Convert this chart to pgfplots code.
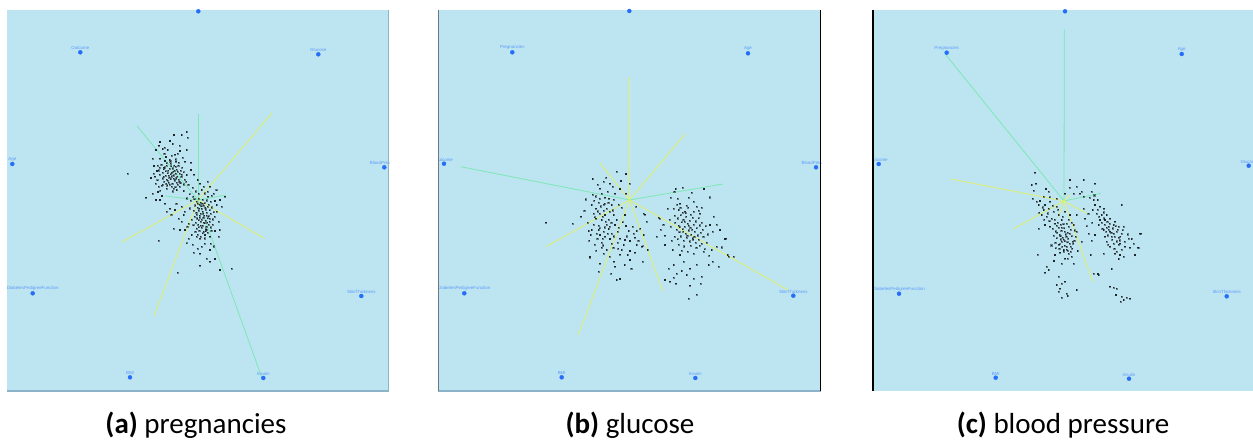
\documentclass[border=0pt]{standalone}
\usepackage{pgfplots}
\usepackage{pgfplotstable}
\pgfplotsset{compat=1.18}
\usepackage{fontspec}
\setmainfont{Carlito}
\newfontfamily\labfont{Liberation Sans}
\definecolor{bgblue}{RGB}{188,229,241}
\definecolor{anchorblue}{RGB}{38,110,250}
\definecolor{labelblue}{RGB}{95,152,250}
\definecolor{raygreen}{RGB}{125,232,178}
\definecolor{rayyellow}{RGB}{226,240,110}
\definecolor{ptcol}{RGB}{25,28,32}
\definecolor{edgegray}{RGB}{140,180,200}
\definecolor{edgedark}{RGB}{105,120,130}

% ---------- scatter points (pixel positions in each panel) ----------
\pgfplotstableread{
x y
174 135
181.7 135
186.7 132
187.7 137.7
172.3 144
179.3 145.7
159 145.7
164.3 147.3
167.7 150
162.7 149
177.7 153.3
186.7 150
171.7 155.7
175 154.3
152.7 158.3
160 158.3
165 161
169.3 160
182.3 157.7
185 161.7
176 161.7
191 162.7
159.3 167.7
163.3 167.7
153.3 173.3
155 176.7
127.3 173.3
191 170
194 174.3
186.7 175
155.7 183.3
158.3 186.7
162.7 184.3
166.7 188.3
176.7 190
183.3 191
152.3 193.3
197.3 180
200 183.3
203.3 186.7
210 186.7
207.3 181.7
201.7 190
213.3 193.3
160 142
156 150
170 141
166 157
180 151
154 166
157 171
151 178
158 192
162 196
156 200
161.2 164.8
163.9 169.1
166.4 165.7
168.1 170.6
170.3 163.9
172.6 168.2
174.1 165.3
176.7 169.4
178.2 165.9
180.4 170.8
182.1 167.3
162.8 172.4
165.3 175.6
167.6 173.1
169.2 177.4
171.5 172.3
173.4 175.2
175.8 173.6
177.1 176.9
179.6 173.3
181.2 176.5
183.7 172.1
162.4 178.2
164.1 181.6
166.7 179.4
168.3 182.7
170.6 179.1
172.2 183.4
174.5 180.2
176.3 182.5
178.8 179.6
180.2 183.1
184.4 179.3
167.1 185.2
171.4 186.3
175.2 187.1
179.5 186.4
169.7 168.3
173.1 171.4
177.4 171.8
171.3 176.2
165.6 171.1
159.4 174.3
157.2 180.1
161.3 185.4
183.4 184.2
186.1 181.3
170.2 161.2
166.3 163.1
175.4 159.2
160.1 190.3
157.3 165.4
172.8 191.2
179.2 181.5
173.5 178.5
168.5 175.5
175.5 166.5
164.7 167.2
170.9 174.1
174.6 170.3
167.3 180.3
177.9 184.4
163.6 176.3
169.9 184.8
176.1 178.2
181.9 174.4
166.1 183.9
173.8 188.9
158.7 170.2
171.1 166.1
178.6 162.7
164.2 153.6
188.2 184.6
192.5 187.3
195.8 191.2
189.6 194.1
193.1 196.4
198.4 193.6
204.6 193.2
207.8 191.4
211.6 195.3
216.2 190.1
186.3 198.2
190.4 200.3
194.2 199.1
196.5 201.8
198.3 198.7
200.7 202.4
202.6 199.6
204.9 203.1
206.8 200.2
208.5 204.3
210.3 201.5
195.1 205.2
197.4 207.9
199.6 204.8
201.8 208.3
203.7 205.6
205.3 209.2
207.6 206.4
209.8 210.1
211.9 207.2
193.6 210.8
196.2 212.5
198.7 210.4
200.4 213.6
202.9 211.7
204.1 215.3
206.5 212.8
208.9 216.1
210.7 213.4
194.8 216.7
197.1 218.2
199.3 215.9
201.4 219.4
203.2 217.5
205.8 220.3
207.4 218.1
209.6 221.6
212.3 219.2
195.9 222.4
198.1 224.6
200.3 221.9
202.5 225.3
204.7 223.1
206.2 226.8
208.3 224.5
210.8 227.2
196.8 228.3
199.2 230.7
201.6 227.9
203.9 231.4
205.7 229.2
207.9 232.6
193.2 225.1
191.7 219.6
212.8 224.4
213.6 212.1
197.6 203.3
201.2 206.1
205.1 207.4
199.8 217.3
203.4 222.6
198.5 227.1
202.4 233.1
195.2 231.9
211.2 230.3
200.9 236.4
204.3 238.2
197.3 234.6
199.1 208.6
203.1 213.8
207.1 222.4
200.8 225.6
205.6 231.1
196.4 214.6
209.4 218.7
202.2 203.8
198.8 220.1
206.9 215.4
216.7 205
221.7 206.7
216.7 211.7
215 201
220 200
225 196.7
208 196.7
214.3 216.8
218.9 221.3
146 197.7
160 200
165 203.3
170 208.3
166.7 211.7
175 210
181.7 206.7
183.3 215
178.3 218.3
173.3 228.3
180 230
185 230
181.7 221.7
188.3 223.3
191.7 235
188.3 238.3
196.7 236.7
200 238.3
205 235
210 236.7
206.7 230
215 231
219.3 230
218.3 236.7
210.7 243.3
201.7 246.7
197.3 248.3
210 250
158.3 240.7
200 253.3
206.7 258.3
215 259
210 261.7
200 265.7
220 270
231.7 268.3
177.3 272.3
187.2 226.4
184.6 211.3
189.4 208.2
176.2 203.5
171.2 214.6
186.5 243.1
192.8 244.5
193.6 252.7
204.5 243.9
213.4 246.2
}\ptsA

\pgfplotstableread{
x y
616.7 171.7
626 174
592.7 179
597.3 184.3
603.3 181.7
610 183.3
600 188.3
612.7 186.7
621 181
620 189
592.3 194.3
615 193.3
626 193.3
599.3 198.3
605 197.7
609 198.3
598.3 202.3
603.3 204.3
611.7 205
618.3 204.3
591.7 205
596 208.3
606.7 208.3
621.7 207.7
593.3 213.3
599.3 213.3
605 215
613.3 215
625 215
581 216.7
596 218.3
601.7 220
616.7 220
593.3 224.3
598.3 225.7
606.7 224.3
615 225
626 226
546 222.7
572.3 223.3
591.7 230
598.3 230
603.3 231.7
608.3 229
611.7 233.3
617.3 231.7
628.3 231
633.3 233.3
636.7 231
588.3 231
590.7 235
600 235
605 236.7
610 239
620 238.3
625 240
630 241
635 237.7
601.7 242.3
611.7 243.3
623.3 245
636.7 245
601.7 247.7
606.7 250
621.7 250
630 251
603.3 253.3
620 254.3
627.3 255
635 252.3
590 256.7
630 260
614 261.7
600 263.3
624.3 265
615 266.7
598.3 271.7
616.7 280
620 279
589.3 257.3
643.3 213.3
646.7 221.7
647.3 250
595.4 196.2
601.8 193.6
607.3 191.4
594.1 200.7
600.6 206.2
608.2 202.9
613.6 199.4
597.8 211.2
603.9 210.4
609.4 211.8
602.7 216.9
608.8 219.4
611.2 222.6
604.3 227.2
596.4 233.4
602.6 238.6
607.8 233.9
613.9 236.2
618.6 227.8
622.4 222.1
587.6 222.8
584.2 210.6
589.1 240.3
594.7 244.8
613.2 247.6
617.8 242.9
632.4 226.7
640.1 228.9
638.2 240.4
642.6 246.1
609.7 256.8
596.1 250.4
631.2 268.4
611.1 273.6
585.9 199.2
606.1 177.3
629.4 183.6
636.1 206.3
599.6 228.1
605.8 221.6
597.2 238.9
603.1 245.2
609.3 226.4
594.6 217.1
618.1 248.3
626.4 236.2
604.9 203.6
612.4 210.2
675.7 189
682.7 187.7
704 189
670.7 197.7
677.7 198.3
688.3 197.7
680 203.3
693.3 201.7
686.7 205.7
701.7 207.7
667.7 208.3
673.3 208.3
678.3 210
685 211.7
693.3 211.7
700 213.3
645 214.3
658.3 217.7
710 225
716.7 224.3
712.7 231.7
720 230
725 239
656.7 236.7
665 235.7
665 245
672.7 250
680 255
693.3 253.3
703.3 251.7
711.7 250
716.7 246.7
727.3 255
733.3 256.7
712.7 261.7
708.3 265
718.3 266.7
696.7 264.3
690 268.3
673.3 265
668.3 268.3
681.7 271
686.7 275
693.3 278.3
701.7 276.7
673.3 277.7
676 283.3
690 285.7
700.7 283.3
670 281.7
696.7 294.3
688.3 298.3
665 280
676.7 273.3
683.3 261.7
642.7 261.7
641.7 246.7
643.3 235
726 238.3
728.3 256.7
659.3 218.3
674.2 191.5
691.6 192.4
709.8 197.2
713.4 216.9
663.2 224.8
660.4 229.3
706.9 242.8
721.8 247.2
674.3 215.6
677.6 218.2
680.4 215.1
683.2 219.4
686.1 216.3
689.3 220.7
692.5 217.4
695.8 221.2
698.6 218.1
701.9 222.6
675.1 222.9
678.7 225.4
681.3 222.1
684.6 226.3
687.4 223.5
690.2 227.6
693.7 224.3
696.4 228.1
699.3 225.2
702.6 229.4
676.4 229.8
679.2 232.1
682.5 229.1
685.3 233.4
688.6 230.2
691.1 234.6
694.8 231.3
697.5 235.2
700.4 232.4
703.2 236.5
674.6 236.6
677.8 239.1
680.9 236.2
683.7 240.3
686.4 237.4
689.8 241.2
692.3 238.2
695.6 242.3
698.9 239.4
701.5 243.6
678.3 244.8
684.1 246.2
690.6 245.5
696.2 247.8
681.6 250.4
687.7 251.9
670.9 226.7
669.4 219.6
671.3 240.8
705.6 226.1
707.8 234.2
685.8 213.1
680.2 207.4
688.1 207.9
696.3 206.6
684.4 221.7
692.1 229.5
687.2 235.8
679.6 227.1
694.2 236.8
682.9 212.4
690.9 214.6
677.1 204.8
698.4 210.9
688.9 225.3
683.1 231.9
693.1 239.9
699.8 245.9
704.8 249.1
709.1 255.6
}\ptsB

\pgfplotstableread{
x y
1035 172.3
1031.7 185
1036 183.3
1046 189
1048.3 191.7
1070 180
1069.3 187.7
1076.7 186.7
1083.3 180
1081.7 191.7
1083.3 196.7
1073.3 193.3
1065 193.3
1032.7 198.3
1036.7 201.7
1038.3 205
1040 201
1045 205
1050 201.7
1056.7 198.3
1043.3 210
1048.3 208.3
1053.3 211.7
1056.7 206.7
1041.7 215
1046.7 216.7
1051.7 218.3
1058.3 215
1065 211.7
1070 215
1076.7 215
1061.7 220
1066.7 223.3
1045 225
1050 226.7
1055 223.3
1038.3 228.3
1073.3 225
1076.7 231.7
1063.3 250
1068.3 253.3
1060 252.3
1055 255
1071.7 256.7
1065 258.3
1061.7 263.3
1073.3 263.3
1037.3 254.3
1054 261
1046.7 266.7
1048.3 270
1045 272.3
1058.3 276.7
1061.7 283.3
1065 281.7
1056.7 285
1060 288.3
1066.7 293.3
1058.3 291.7
1076.7 290
1067.3 296
1061.7 297.7
1080 193.3
1083.3 208.3
1085 218.3
1088.3 233.3
1081.7 241.7
1077.3 251
1052.4 228.6
1055.8 231.2
1058.3 227.4
1061.2 230.9
1064.1 228.1
1067.4 232.6
1070.6 229.7
1053.7 235.3
1056.9 238.1
1059.6 234.4
1062.8 237.6
1065.3 234.2
1068.1 238.9
1071.4 236.1
1074.2 240.3
1055.2 242.4
1058.4 244.7
1061.7 241.6
1064.6 245.3
1067.2 242.1
1070.3 246.4
1073.1 243.7
1059.2 248.6
1063.4 251.2
1066.8 249.3
1070.9 251.8
1057.6 222.4
1060.8 224.6
1054.3 219.6
1049.2 221.1
1047.3 213.2
1044.1 219.7
1062.4 216.4
1068.4 219.8
1071.8 222.6
1074.5 230.2
1064.9 241.1
1060.3 239.2
1057.1 232.8
1066.2 236.8
1069.3 243.5
1062.1 246.8
1055.6 248.1
1068.6 226.5
1063.2 224.1
1042.8 207.2
1039.1 212.6
1052.6 205.4
1058.1 209.8
1033.6 190.4
1043.5 196.3
1049.5 197.1
1075.3 236.9
1072.1 248.8
1051.2 245.2
1067.9 258.8
1060.2 236.1
1063.7 239.8
1066.9 246.9
1069.8 233.9
1059.9 244.1
1072.6 241.5
1056.4 225.8
1064.4 231.6
1067.7 250.8
1061.4 227.6
1095 183.3
1091.7 191.7
1093.3 200
1097.3 200
1095 205
1100 206.7
1092.7 210
1104 208.3
1096.7 213.3
1101.7 215
1106.7 215
1121.7 205
1100 220
1105 220
1110 218.3
1115 221.7
1098.3 225
1108.3 226.7
1113.3 225
1118.3 226.7
1123.3 226.7
1103.3 230
1110 231.7
1116.7 231.7
1121.7 233.3
1095 235
1105 236.7
1111.7 236.7
1118.3 237.7
1128.3 238.3
1131.7 239
1140 233.3
1106.7 241.7
1113.3 243.3
1120 243.3
1125 246.7
1110 246.7
1130 247.7
1138.3 247.7
1103.3 253.3
1116.7 251.7
1120 255
1115 253.3
1123.3 256.7
1118.3 259
1135 255
1111.7 269
1090.7 255
1093.3 273.3
1098.3 275
1110 286.7
1113.3 287.7
1116.7 288.3
1116 295
1121.7 296.7
1126.7 297.7
1130 298.3
1120.7 301.7
1123.3 300
1141 233.3
1137.3 247.3
1098 274
1101.3 222.4
1104.6 224.8
1107.2 221.6
1109.8 223.9
1112.4 228.2
1115.6 226.1
1102.2 228.4
1106.1 231.8
1108.7 229.3
1113.9 233.6
1117.4 229.4
1120.1 236.3
1107.8 235.2
1112.1 239.4
1116.3 241.2
1119.7 240.2
1122.6 230.1
1124.8 241.3
1099.1 216.7
1103.4 212.2
1097.6 209.3
1094.2 195.2
1089.4 197.6
1088.2 213.8
1108.1 244.6
1114.2 248.7
1121.9 249.3
1127.3 234.2
1133.6 243.8
1092.1 222.7
1086.7 226.1
1091.8 240.4
1106.4 227.9
1111.2 232.9
1114.7 236.4
1104.1 218.2
1118.9 244.9
}\ptsC

% anchor positions
\pgfplotstableread{
x y
198.3 11.3
318.3 54.3
384.3 167.3
361.3 296
263.3 378
130 377.3
32.7 293.3
12.3 164
80.3 52.3
}\ancA
\pgfplotstableread{
x y
629.3 11
748 53.3
816 167.3
793.3 295.7
695.3 378
561.7 377.3
464.3 293.3
444 163.7
512.3 52.3
}\ancB
\pgfplotstableread{
x y
1065 11.3
1181.7 54
1248.7 165.7
1226.7 296.3
1129 378.7
995.7 377.7
899 293.7
878.7 164
946.7 52.7
}\ancC

\pgfplotsset{
  panel/.style={
    anchor=south west, scale only axis, height=381bp,
    ymin=10, ymax=391, y dir=reverse,
    axis line style={draw=none}, xtick=\empty, ytick=\empty,
    axis background/.style={fill=bgblue}, clip=true,
  },
  pts/.style={only marks, mark=square*, mark size=0.55bp, color=ptcol, mark options={draw opacity=0.5, fill opacity=0.9}},
  anc/.style={only marks, mark=*, mark size=2bp, color=anchorblue},
  rg/.style={raygreen, line width=0.8bp, no marks},
  ry/.style={rayyellow, line width=0.8bp, no marks},
}
\tikzset{
  lab/.style={anchor=south, inner sep=0pt, yshift=2.4bp, text=labelblue, font=\labfont\fontsize{4.4bp}{5bp}\selectfont},
}

\begin{document}
\begin{tikzpicture}
\useasboundingbox (0,0) rectangle (1253bp,441bp);

% ---------------- panel (a) ----------------
\begin{axis}[panel, at={(7bp,50bp)}, width=382bp, xmin=7, xmax=389]
\addplot[rg] coordinates {(198,200) (198,114)};
\addplot[ry] coordinates {(198,200) (272,113)};
\addplot[rg] coordinates {(198,200) (226,195)};
\addplot[ry] coordinates {(198,200) (264,238)};
\addplot[rg] coordinates {(198,200) (262,378)};
\addplot[ry] coordinates {(198,200) (154,316)};
\addplot[ry] coordinates {(198,200) (122,242)};
\addplot[rg] coordinates {(198,200) (165,196)};
\addplot[rg] coordinates {(198,200) (137,126)};
\addplot[pts] table {\ptsA};
\addplot[anc] table {\ancA};
\node[lab] at (axis cs:198.3,11.3) {Pregnancies};
\node[lab] at (axis cs:318.3,54.3) {Glucose};
\node[lab] at (axis cs:384.3,167.3) {BloodPressure};
\node[lab] at (axis cs:361.3,296) {SkinThickness};
\node[lab] at (axis cs:263.3,378) {Insulin};
\node[lab] at (axis cs:130,377.3) {BMI};
\node[lab] at (axis cs:32.7,293.3) {DiabetesPedigreeFunction};
\node[lab] at (axis cs:12.3,164) {Age};
\node[lab] at (axis cs:80.3,52.3) {Outcome};
\end{axis}

% ---------------- panel (b) ----------------
\begin{axis}[panel, at={(438bp,50bp)}, width=383bp, xmin=438, xmax=821]
\addplot[ry] coordinates {(629.5,200) (629.5,77)};
\addplot[ry] coordinates {(629.5,200) (685,134)};
\addplot[rg] coordinates {(629.5,200) (723,184)};
\addplot[ry] coordinates {(629.5,200) (788,290)};
\addplot[ry] coordinates {(629.5,200) (662.7,290.7)};
\addplot[ry] coordinates {(629.5,200) (578.3,335)};
\addplot[ry] coordinates {(629.5,200) (546,246.7)};
\addplot[rg] coordinates {(629.5,200) (460.7,166.7)};
\addplot[ry] coordinates {(629.5,200) (600,163.3)};
\addplot[pts] table {\ptsB};
\addplot[anc] table {\ancB};
\node[lab] at (axis cs:629.3,11) {Glucose};
\node[lab] at (axis cs:748,53.3) {Age};
\node[lab] at (axis cs:816,167.3) {BloodPressure};
\node[lab] at (axis cs:793.3,295.7) {SkinThickness};
\node[lab] at (axis cs:695.3,378) {Insulin};
\node[lab] at (axis cs:561.7,377.3) {BMI};
\node[lab] at (axis cs:464.3,293.3) {DiabetesPedigreeFunction};
\node[lab] at (axis cs:444,163.7) {Outcome};
\node[lab] at (axis cs:512.3,52.3) {Pregnancies};
\end{axis}

% ---------------- panel (c) ----------------
\begin{axis}[panel, at={(872bp,50bp)}, width=384bp, xmin=872, xmax=1256]
\addplot[rg] coordinates {(1064,201) (1064.3,29.3)};
\addplot[rg] coordinates {(1064,201) (1100.7,193.3)};
\addplot[rg] coordinates {(1064,201) (946,55)};
\addplot[ry] coordinates {(1064,201) (951,179)};
\addplot[ry] coordinates {(1064,201) (1013.3,229)};
\addplot[ry] coordinates {(1064,201) (1058.3,216.7)};
\addplot[ry] coordinates {(1064,201) (1092.7,281.7)};
\addplot[ry] coordinates {(1064,201) (1086.7,213.3)};
\addplot[ry] coordinates {(1064,201) (1070,195)};
\addplot[pts] table {\ptsC};
\addplot[anc] table {\ancC};
\node[lab] at (axis cs:1065,11.3) {BloodPressure};
\node[lab] at (axis cs:1181.7,54) {Age};
\node[lab] at (axis cs:1248.7,165.7) {Glucose};
\node[lab] at (axis cs:1226.7,296.3) {SkinThickness};
\node[lab] at (axis cs:1129,378.7) {Insulin};
\node[lab] at (axis cs:995.7,377.7) {BMI};
\node[lab] at (axis cs:899,293.7) {DiabetesPedigreeFunction};
\node[lab] at (axis cs:878.7,164) {Outcome};
\node[lab] at (axis cs:946.7,52.7) {Pregnancies};
\end{axis}

% panel edges
\draw[edgegray, line width=1.1bp] (7bp,50bp) -- (389bp,50bp);
\draw[edgegray, line width=1.1bp] (388.5bp,50bp) -- (388.5bp,431bp);
\draw[edgegray, line width=1.1bp] (438bp,50bp) -- (821bp,50bp);
\draw[edgedark, line width=1.1bp] (438.5bp,50bp) -- (438.5bp,431bp);
\draw[black, line width=1.8bp] (820.5bp,50bp) -- (820.5bp,431bp);
\draw[black, line width=1.8bp] (872.8bp,50bp) -- (872.8bp,431bp);

% captions
\node[anchor=base, inner sep=0pt, font=\fontsize{29bp}{32bp}\selectfont] at (196bp,7.5bp) {\textbf{(a)} pregnancies};
\node[anchor=base, inner sep=0pt, font=\fontsize{29bp}{32bp}\selectfont] at (630bp,7.5bp) {\textbf{(b)} glucose};
\node[anchor=base, inner sep=0pt, font=\fontsize{29bp}{32bp}\selectfont] at (1063bp,7.5bp) {\textbf{(c)} blood pressure};
\end{tikzpicture}
\end{document}
